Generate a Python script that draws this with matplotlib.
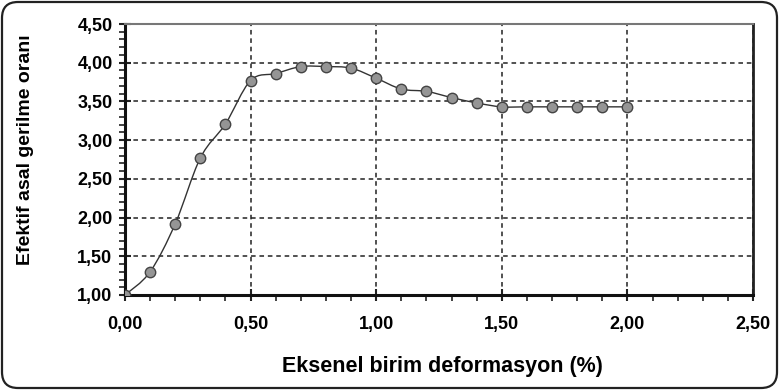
import matplotlib.pyplot as plt
import numpy as np
from matplotlib.path import Path
from matplotlib.patches import PathPatch, FancyBboxPatch
from matplotlib.ticker import MultipleLocator, FuncFormatter
from matplotlib.transforms import IdentityTransform

# axial strain (%) and effective principal stress ratio
strain = [0.0, 0.1, 0.2, 0.3, 0.4, 0.5, 0.6, 0.7, 0.8, 0.9, 1.0,
          1.1, 1.2, 1.3, 1.4, 1.5, 1.6, 1.7, 1.8, 1.9, 2.0]
ratio = [1.00, 1.30, 1.92, 2.77, 3.21, 3.77, 3.86, 3.95, 3.95, 3.93, 3.80,
         3.66, 3.63, 3.55, 3.48, 3.43, 3.43, 3.43, 3.43, 3.43, 3.43]

xlabel = 'Eksenel birim deformasyon (%)'
ylabel = 'Efektif asal gerilme oranı'

plt.rcParams['font.family'] = ['Liberation Sans', 'DejaVu Sans']
plt.rcParams['font.weight'] = 'bold'

W, H = 779, 390
fig = plt.figure(figsize=(W / 100, H / 100), dpi=100)
ax = fig.add_axes([125 / W, 95 / H, 628 / W, 271 / H])

# smoothed line through the points (Catmull-Rom style bezier segments)
pts = np.column_stack([strain, ratio])
verts = [pts[0]]
codes = [Path.MOVETO]
n = len(pts)
for i in range(n - 1):
    p0 = pts[max(i - 1, 0)]
    p1 = pts[i]
    p2 = pts[i + 1]
    p3 = pts[min(i + 2, n - 1)]
    c1 = p1 + (p2 - p0) / 6.0
    c2 = p2 - (p3 - p1) / 6.0
    verts += [c1, c2, p2]
    codes += [Path.CURVE4] * 3
ax.add_patch(PathPatch(Path(verts, codes), facecolor='none',
                       edgecolor='#333333', lw=1.0, zorder=3))

ax.plot(strain, ratio, linestyle='none', marker='o', markersize=7.5,
        markerfacecolor='#959595', markeredgecolor='#444444',
        markeredgewidth=1.0, zorder=4)

ax.set_xlim(0, 2.5)
ax.set_ylim(1.0, 4.5)
ax.xaxis.set_major_locator(MultipleLocator(0.5))
ax.xaxis.set_minor_locator(MultipleLocator(0.1))
ax.yaxis.set_major_locator(MultipleLocator(0.5))
ax.yaxis.set_minor_locator(MultipleLocator(0.1))
comma = FuncFormatter(lambda v, p: f'{v:.2f}'.replace('.', ','))
ax.xaxis.set_major_formatter(comma)
ax.yaxis.set_major_formatter(comma)

ax.grid(True, which='major', color='#222222', lw=1.1,
        linestyle=(0, (3, 2.5)))
ax.set_axisbelow(True)

ax.tick_params(which='major', direction='inout', length=8, width=1.5,
               labelsize=13, pad=5, color='#222222')
ax.tick_params(which='minor', direction='out', length=4, width=1.2,
               color='#222222')
ax.tick_params(axis='x', which='major', pad=11)

for s in ['left', 'bottom']:
    ax.spines[s].set_linewidth(2.2)
    ax.spines[s].set_color('#111111')
ax.spines['right'].set_linewidth(2.0)
ax.spines['right'].set_color('#222222')
ax.spines['top'].set_linewidth(1.5)
ax.spines['top'].set_color('#777777')

ax.set_xlabel(xlabel, fontsize=15.5, fontweight='bold')
ax.set_ylabel(ylabel, fontsize=14, fontweight='bold')
ax.xaxis.set_label_coords(0.506, -0.225)
ax.yaxis.set_label_coords(-0.145, 0.535)

# rounded chart border
border = FancyBboxPatch((2, 2), W - 4, H - 4,
                        boxstyle='round,pad=0,rounding_size=16',
                        transform=IdentityTransform(), facecolor='none',
                        edgecolor='#222222', lw=1.6)
fig.patches.append(border)

fig.savefig('out.png', dpi=100)
